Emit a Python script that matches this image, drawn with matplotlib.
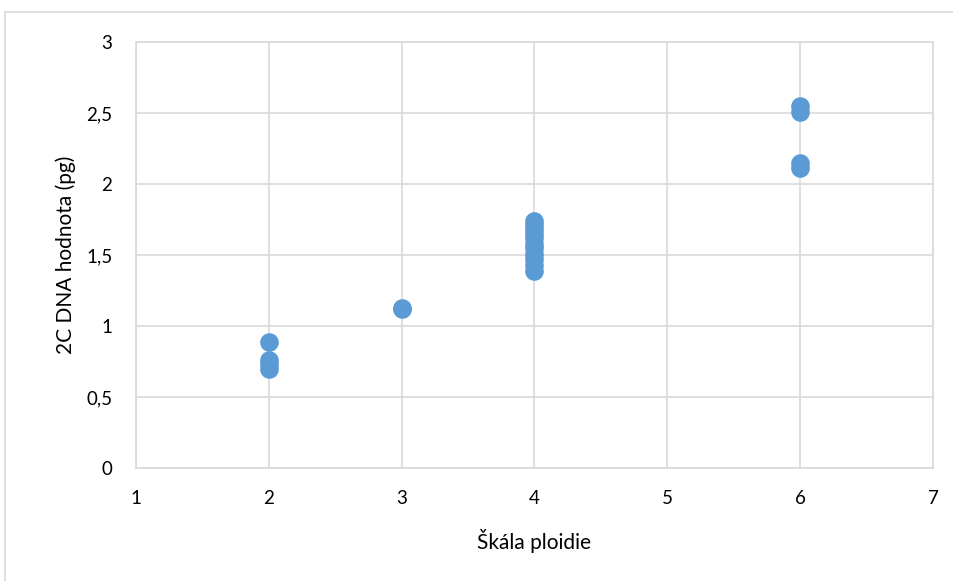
import matplotlib.pyplot as plt
from matplotlib.lines import Line2D

ploidy = [2, 2, 2, 2, 3, 3,
          4, 4, 4, 4, 4, 4, 4, 4, 4, 4, 4,
          6, 6, 6, 6]
dna = [0.89, 0.76, 0.73, 0.70, 1.13, 1.12,
       1.74, 1.71, 1.68, 1.65, 1.62, 1.58, 1.55, 1.51, 1.47, 1.43, 1.39,
       2.55, 2.51, 2.15, 2.11]

xticks = [1, 2, 3, 4, 5, 6, 7]
yticks = [0, 0.5, 1, 1.5, 2, 2.5, 3]
ylabels = ['0', '0,5', '1', '1,5', '2', '2,5', '3']

plt.rcParams['font.family'] = ['Lato', 'DejaVu Sans']

fig = plt.figure(figsize=(9.54, 5.81), dpi=100)
ax = fig.add_axes([136/954, 1-468/581, (933-136)/954, (468-42)/581])

# chart border: only top and left edges visible in the crop
fig.lines.append(Line2D([5/954, 1], [1-12/581, 1-12/581], transform=fig.transFigure,
                        color='#d9d9d9', linewidth=1.2))
fig.lines.append(Line2D([5/954, 5/954], [0, 1-12/581], transform=fig.transFigure,
                        color='#d9d9d9', linewidth=1.2))

ax.scatter(ploidy, dna, s=180, color='#5b9bd5', zorder=3, linewidths=0)

ax.set_xlim(1, 7)
ax.set_ylim(0, 3)
ax.set_xticks(xticks)
ax.set_yticks(yticks)
ax.set_yticklabels(ylabels)
ax.grid(True, color='#d9d9d9', linewidth=1.2)
for s in ax.spines.values():
    s.set_color('#d9d9d9')
    s.set_linewidth(1.2)
ax.tick_params(length=0, labelsize=13.5, colors='#000000')
ax.tick_params(axis='x', pad=16)
ax.tick_params(axis='y', pad=17)
ax.set_xlabel('Škála ploidie', fontsize=15, labelpad=16)
ax.set_ylabel('2C DNA hodnota (pg)', fontsize=15, labelpad=7)

fig.savefig('out.png', dpi=100)
